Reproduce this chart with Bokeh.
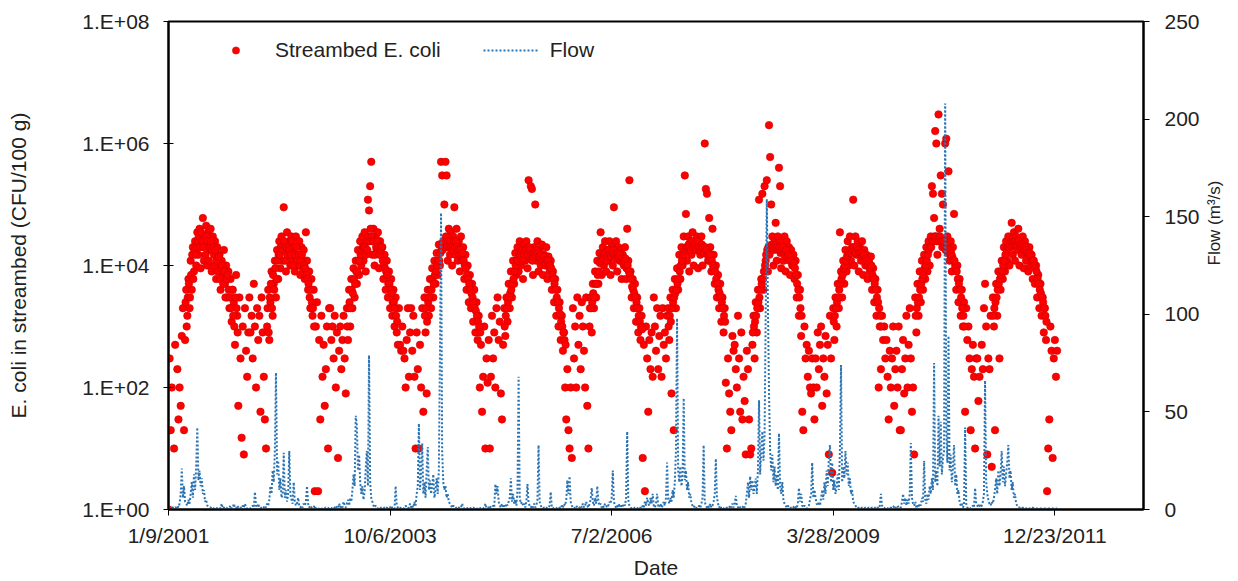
import numpy as np
from bokeh.plotting import figure
from bokeh.models import (Range1d, LinearAxis, LinearScale, FixedTicker, Legend, LegendItem,
                          ColumnDataSource, CustomJSTickFormatter)
from bokeh.embed import file_html
from bokeh.resources import INLINE

# ---------------- data ----------------
# Excel date serial of the first sample of each season block, 5-day sampling
season_start_serial = [36900, 37265, 37630, 37995, 38360, 38725, 39090, 39455, 39820, 40185, 40550]
sample_step_days = 5

# Streambed E. coli (CFU/100 g) (None = no point shown)
ecoli_2001 = [1, 300, 20, 100, None, 10, 500, None, 200, 30, 100,
              50, 700, 2e3, 20, 600, 4e3, 1.5e3,
              6e3, 2e3, 1.2e4, 4e3, 2e4, 8e3, 2.5e4, 1e4, 3.5e4,
              1.5e4, 4e4, 9e3, 3e4, 6e4, 1.2e4, 2.5e4, 4.5e4, 1e4, 3.5e4, 1.8e4, 4e4, 8e3, 3e4, 1.5e4, 2.5e4,
              6e3, 2e4, 1e4, 1.5e4, 4e3, 1.2e4, 7e3, 1.8e4, 5e3, 1e4, 3e3,
              8e3, 2e3, 6e3, 1.2e3, 4e3, 2.5e3, 500, 7e3, 1.5e3,
              50, 3e3, 300, 15, 1e3, 8, 2e3, 400, 150, 800]
ecoli_2002 = [3e3, 800, 1.5e3, 300, 5e3, 1e3, 100, 2e3, 600, 1.5e3, 40, 3e3, 800, 150, 30,
              10, 1e3, 4e3, 600, 2.5e3, 8e3, 1.5e3, 5e3, 1.2e4, 3e3, 1.8e4, 6e3,
              2.5e4, 9e3, 3e4, 1.2e4, 9e4, 2e4, 8e3, 3.5e4, 1.5e4, 2.5e4, 1e4, 3e4,
              1.2e4, 2e4, 8e3, 3e4, 1.5e4, 1e4, 2.5e4, 7e3, 2e4, 1.2e4, 1.8e4, 6e3,
              3.5e4, 1.2e4, 4e3, 8e3, 2e3, 6e3, 1.5e3, 4e3,
              2, 1e3, 2.5e3, 2, 600, 30, 1.5e3, 150, 500, 50, 200, 1e3, 10, 2e3]
ecoli_2003 = [2e3, 600, 1e3, 300, 1.5e3, 100, 800, 7, 400, 1e3, 200, 600, 1.5e3, 300, 80,
              2e3, 600, 4e3, 1e3, 6e3, 2e3, 9e3, 3e3, 1.2e4, 5e3, 1.8e4, 7e3, 2.5e4, 1e4,
              3e4, 1.2e4, 3.5e4, 8e3, 2.5e4, 1.2e5, 8e4, 2e5, 5e5, 1.5e4, 4e4, 1e4, 3e4, 1.8e4,
              3.5e4, 9e3, 2.5e4, 1.5e4,
              2e4, 6e3, 1.5e4, 4e3, 1.2e4, 3e3, 8e3, 2e3, 6e3, 1.5e3, 4e3, 1e3, 3e3, 800,
              500, 2e3, 500, 400, 1e3, 400, 300, 100, 600, 2e3, 150, 800]
ecoli_2004 = [2e3, 400, 1.5e3, 150, 10, 800, 200, 10, 500, 100,
              2e3, 40, 3e3, 800, 80, 4e3, 1.5e3, 6e3, 2e3, 9e3, 3e3, 1.2e4, 5e3, 1.6e4, 7e3, 2.2e4, 1e4,
              5e5, 3e5, 2.5e4, 1e5, 5e5, 3e5, 1.2e4, 4e4, 1.5e4, 3.5e4, 1e4, 3e4, 9e4, 1.5e4, 4e4,
              1.2e4, 2.5e4, 8e3, 3e4, 1.2e4, 2e4,
              6e3, 1.5e4, 4e3, 1e4, 2.5e3, 7e3, 2e3, 5e3, 1.2e3, 4e3, 800, 2.5e3, 600, 1.5e3, 100,
              500, 40, 150, 1e3, 10, 300, 120, 600, 10, 150]
ecoli_2005 = [1.5e3, 300, 800, 100, 2e3, 3e3, 600, 1.2e3, 80, 30, 500,
              2e3, 700, 3e3, 1.2e3, 5e3, 2e3, 8e3, 3e3, 1.2e4, 5e3, 1.6e4, 7e3,
              2e4, 8e3, 2.5e4, 1e4, 1.8e4, 6e3, 2.2e4, 1.2e4, 2.5e4, 9e3, 2.5e5, 1.5e4, 2e5, 1.8e5,
              7e3, 2e4, 1e5, 1.2e4, 2.5e4, 8e3, 1.8e4, 1e4, 2.2e4, 7e3, 1.5e4, 1e4, 2e4, 6e3, 1.4e4, 8e3,
              1.2e4, 4e3, 8e3, 2.5e3, 6e3, 1.5e3, 4e3, 1e3, 2.5e3, 600, 1.5e3, 400, 800, 100,
              30, 200, 20, 10, 100, 7]
ecoli_2006 = [2e3, 300, 1e3, 100, 3e3, 500, 1.5e3, 200, 2.5e3, 1e3, 400, 100, 3e3, 50,
              10, 1e3, 3e3, 800, 5e3, 2e3, 8e3, 3e3, 1.2e4, 5e3, 1.6e4,
              3.5e4, 7e3, 2e4, 1e4, 2.5e4, 8e3, 1.8e4, 1.2e4, 2.5e4, 7e3, 2e4, 1e4, 9e4, 1.5e4,
              2.5e4, 8e3, 2e4, 1.2e4, 1.8e4, 6e3, 1.5e4, 1e4, 2e4, 6e3, 4e4, 1.2e4,
              2.5e5, 8e3, 3e3, 6e3, 2e3, 5e3, 1.2e3, 3e3, 800, 2e3, 600, 1.5e3,
              7, 500, 2, 1e3, 300, 40, 600, 200, 800, 150]
ecoli_2007 = [3e3, 1e3, 400, 2e3, 200, 700, 1.5e3, 150, 2e3, 500,
              800, 300, 1.5e3, 2e3, 600, 3e3, 80, 4e3, 20, 6e3, 2e3, 9e3,
              4e3, 1.5e4, 6e3, 2e4, 1e4, 3e4, 3e5, 7e4, 1.2e4, 3e4, 8e3, 2.5e4, 1.5e4, 3.5e4,
              1e4, 2.5e4, 1.8e4, 3e4, 9e3, 2.5e4, 1.5e4, 3e4, 1e4, 2e4, 1e6, 1.8e5, 1.5e5,
              1.2e4, 6e4, 2e4, 8e3,
              4e4, 1.5e4, 5e3, 1e4, 3e3, 7e3, 2e3, 5e3, 1.2e3, 3e3, 800, 2e3,
              120, 10, 300, 80, 40, 20, 700, 400]
ecoli_2008 = [500, 200, 100, 1.5e3, 300, 40, 800, 30, 150, 60, 8, 400, 200, 30, 8, 10,
              500, 1.5e3, 300, 2.5e3, 800, 4e3, 1.2e5, 2e3, 6e3, 1.5e5, 4e3, 2e5,
              1.2e4, 2.5e5, 8e3, 2e6, 6e5, 1e5, 3e4, 1e4, 2.5e4, 5e4, 1.2e4, 3e4, 4e5, 2e5,
              9e3, 2.5e4, 1.2e4, 3e4, 8e3, 2.5e4, 1.5e4, 2e4, 7e3, 1.8e4, 1e4, 1.5e4, 6e3,
              1.2e4, 3e3, 7e3, 1.5e3, 4e3, 700, 40, 20,
              1e3, 300, 500, 150, 400, 100, 80, 300, 100, 30]
ecoli_2009 = [300, 100, 800, 200, 500, 1e3, 50, 300, 150, 700, 80, 500, 8, 1.5e3, 300, 4,
              2e3, 600, 3e3, 1e3, 5e3, 2e3, 3.5e4, 8e3, 3e3,
              1.2e4, 5e3, 1.8e4, 8e3, 2.5e4, 1e4, 3e4, 1.2e4, 2e4, 1.2e5, 1e4, 3e4, 1.5e4,
              2.5e4, 8e3, 2e4, 1.2e4, 2.5e4, 7e3, 1.8e4, 1e4, 1.5e4, 6e3, 1.2e4, 8e3, 1.4e4,
              4e3, 9e3, 2.5e3, 6e3, 1.5e3, 4e3, 100, 1e3, 200,
              1.5e3, 600, 1e3, 300, 600, 150, 30, 400, 100, 300, 1e3, 50, 200]
ecoli_2010 = [400, 100, 1e3, 20, 20, 200, 600, 80, 300, 1.5e3, 100, 500, 2e3, 300, 40, 100, 8,
              3e3, 800, 5e3, 1.5e3, 8e3, 2.5e3, 1.2e4, 4e3, 1.5e4, 6e3, 2e4, 8e3,
              2.5e4, 1e4, 3e4, 2e5, 1.5e5, 6e4, 1.6e6, 1e6, 1.5e4, 3e6, 4e4, 3e5, 1.5e5, 1e5,
              2e4, 1e6, 1.2e6, 3e4, 3.5e5, 1.2e4, 2.5e4, 8e3, 2e4, 7e4,
              1e4, 4e3, 1e4, 2.5e3, 6e3, 1.5e3, 4e3, 1e3, 2.5e3,
              40, 2e3, 600, 1e3, 300, 20, 200, 500, 150, 10, 300]
ecoli_2011 = [300, 60, 150, None, 500, 200, 2e3, 5e3, 1e3, 8, 300, 200, 1.5e3, 5,
              3e3, 1e3, 20, 5e3, 1.5e3, 8e3, 300, 4e3, 1.2e4, 6e3,
              2e4, 8e3, 2.5e4, 1.2e4, 3e4, 1e4, 2e4, 5e4, 1.5e4, 3.5e4, 1.2e4, 3e4, 1.8e4, 4e4,
              1e4, 2.5e4, 1.5e4, 3e4, 9e3, 2.5e4, 1.2e4, 2e4, 8e3, 2e4, 1e4, 1.5e4, 6e3, 1.2e4, 5e3,
              1e4, 3e3, 7e3, 2e3, 5e3, 1.5e3, 3e3, 800, 2e3, 600,
              2, 10, 30, 1e3, 400, 7, 300, 600, 150, 400]

# Extra summer samples (offset by 2 days) that fill the dense summer band
arch_start_serial = [36977, 37347, 37707, 38057, 38417, 38802, 39157, 39537, 39902, 40272, 40622]
arch_2001 = [2.5e3, 1e3, 3e3, 5e3, 3e3, 7e3, 1.5e4, 6e3, 1.8e4,
             1.5e4, 2e4, 2.5e4, 3e4, 2e4, 3.5e4, 2.5e4, 2e4, 3e4, 1.5e4, 3e4, 2.5e4, 1.2e4, 2e4, 2.5e4,
             1.8e4, 2e4, 1e4, 1.8e4,
             1.2e4, 8e3, 1.4e4, 6e3, 9e3, 1e4, 5e3, 8e3, 3e3, 6e3, 7e3,
             4e3, 3e3, 2e3, 4e3, 1.5e3, 1e3, 3e3, 2e3, 800]
arch_2002 = [2e3, 800, 3e3, 5e3, 2e3, 7e3, 4e3, 9e3, 6e3, 1.2e4, 1.5e4,
             1.5e4, 2e4, 2e4, 1.8e4, 2.5e4, 1.2e4, 2e4, 1.5e4, 2e4, 1.8e4, 1.5e4, 2.5e4, 1e4, 2e4,
             1.5e4, 2e4, 1.2e4, 1.5e4, 1e4, 1.2e4, 1.5e4, 8e3, 1e4, 9e3,
             7e3, 6e3, 5e3, 3e3, 4e3, 2.5e3, 2e3, 1e3]
arch_2003 = [1e3, 2e3, 2.5e3, 2e3, 4e3, 3.5e3, 6e3, 5e3, 8e3, 8e3, 1.2e4, 1.2e4, 1.5e4, 1.8e4,
             2e4, 2e4, 2e4, 1.5e4, 1.8e4, 3e4, 2.5e4, 4e4, 3e4, 2.5e4, 2.5e4, 1.5e4, 2e4, 2.5e4,
             2e4, 1.5e4, 1.8e4, 2e4,
             1.2e4, 1e4, 9e3, 8e3, 7e3, 5e3, 5e3, 4e3, 3.5e3, 2.5e3, 2.5e3, 2e3, 1.5e3, 1.2e3]
arch_2004 = [1.5e3, 2e3, 1.2e3, 2.5e3, 3e3, 4e3, 4e3, 6e3, 5e3, 7e3, 8e3, 1e4, 1.2e4, 1.2e4, 1.6e4,
             2e4, 1.8e4, 2.5e4, 2e4, 3e4, 2e4, 2.5e4, 2e4, 2.5e4, 2e4, 1.8e4, 2.5e4, 2e4, 2.5e4,
             2e4, 1.8e4, 1.5e4, 1.8e4, 1.5e4, 1.6e4, 1.2e4,
             1e4, 9e3, 7e3, 6e3, 5e3, 4e3, 3.5e3, 3e3, 2.5e3, 2e3, 1.8e3, 1.5e3, 1.2e3, 1e3, 800]
arch_2005 = [1e3, 1.5e3, 2e3, 2.5e3, 3e3, 3.5e3, 4e3, 5e3, 6e3, 8e3, 1e4, 1.2e4,
             1.2e4, 1.5e4, 1.5e4, 1.4e4, 1.2e4, 1.3e4, 1.5e4, 1.8e4, 1.6e4, 1.5e4, 2e4, 1.8e4,
             1.5e4, 1.2e4, 1.4e4, 1.6e4, 1.5e4, 1.8e4, 1.6e4, 1.4e4, 1.3e4, 1.5e4, 1.2e4, 1.4e4,
             1.2e4, 1.1e4, 1.2e4, 1.2e4, 1e4, 1e4,
             9e3, 7e3, 6e3, 5e3, 4e3, 3e3, 2.5e3, 2e3, 1.6e3, 1.2e3, 1e3, 800, 600, 500]
arch_2006 = [2e3, 2e3, 2.5e3, 3.5e3, 3e3, 5e3, 5e3, 7e3, 8e3, 1.1e4,
             1.2e4, 1.4e4, 1.3e4, 1.5e4, 1.6e4, 1.2e4, 1.4e4, 1.8e4, 1.5e4, 1.4e4, 1.6e4, 1.8e4,
             1.5e4, 1.3e4, 1.5e4, 1.6e4, 1.4e4, 1.5e4, 1.2e4, 1.3e4, 1.1e4, 1.2e4, 1.3e4, 9e3,
             1e4, 8e3,
             7e3, 6e3, 4.5e3, 4e3, 3.5e3, 3e3, 2.5e3, 2e3, 1.5e3, 1.2e3, 1e3, 900]
arch_2007 = [1e3, 1.5e3, 1.2e3, 2e3, 2.5e3, 3e3, 3.5e3, 4e3, 5e3, 6e3,
             8e3, 1e4, 1.2e4, 1.5e4, 1.5e4, 1.8e4, 2e4, 2e4, 2.2e4, 2e4, 1.8e4, 2.5e4, 2e4, 2.2e4,
             2e4, 1.8e4, 2.5e4, 2e4, 1.8e4, 2e4, 2.2e4, 2e4, 1.6e4, 2e4, 1.8e4, 1.5e4, 1.6e4,
             1.2e4, 1.5e4, 1.2e4,
             1e4, 9e3, 8e3, 6e3, 5e3, 4e3, 3.5e3, 3e3, 2.5e3, 2e3, 1.5e3, 1.2e3]
arch_2008 = [800, 1e3, 1.2e3, 1.5e3, 2e3, 2.5e3, 3e3, 4e3, 5e3, 6e3, 8e3, 1e4,
             1.5e4, 1.8e4, 2e4, 1.5e4, 2e4, 2.2e4, 2e4, 1.8e4, 2e4, 2.2e4, 2e4, 1.8e4, 2e4, 1.6e4,
             1.8e4, 2e4, 1.6e4, 1.5e4, 1.8e4, 1.4e4, 1.5e4, 1.2e4, 1.4e4, 1.2e4, 1e4, 1.1e4, 9e3,
             7e3, 5e3, 4e3, 3e3, 2e3, 1.5e3]
arch_2009 = [1.2e3, 1.5e3, 2e3, 2.5e3, 3e3, 4e3, 5e3, 6e3, 7e3,
             9e3, 1e4, 1.2e4, 1.4e4, 1.5e4, 1.6e4, 1.8e4, 1.6e4, 1.8e4, 2e4, 1.8e4, 1.6e4, 2e4,
             1.8e4, 1.6e4, 1.5e4, 1.6e4, 1.4e4, 1.5e4, 1.2e4, 1.3e4, 1.2e4, 1e4, 1.1e4, 9e3, 1e4,
             7e3, 6e3, 5e3, 4e3, 3e3, 2.5e3, 2e3, 1.5e3, 1e3]
arch_2010 = [1.5e3, 2e3, 2.5e3, 3e3, 4e3, 5e3, 6e3, 7e3, 9e3, 1e4, 1.2e4, 1.5e4,
             1.8e4, 2e4, 2e4, 2.5e4, 2.5e4, 3e4, 3e4, 2.5e4, 3e4, 2.5e4, 3e4, 2.5e4, 2e4, 2.5e4,
             2e4, 1.8e4, 2e4, 1.6e4, 1.8e4, 1.5e4, 1.6e4, 1.4e4, 1.2e4, 1.2e4,
             9e3, 8e3, 6e3, 5e3, 4e3, 3e3, 2e3, 1.5e3, 1e3]
arch_2011 = [1.5e3, 2e3, 2.5e3, 3e3, 4e3, 5e3, 6e3, 7e3, 8e3, 1e4,
             1.2e4, 1.5e4, 1.8e4, 2e4, 2e4, 2.2e4, 2.5e4, 2.5e4, 2.8e4, 2.5e4, 2.5e4, 2.2e4, 2.5e4,
             2.5e4, 2.2e4, 2e4, 2.2e4, 2e4, 1.8e4, 2e4, 1.8e4, 1.6e4, 1.5e4, 1.6e4, 1.4e4, 1.2e4,
             1.2e4, 1e4, 9e3,
             8e3, 6e3, 5e3, 4e3, 3.5e3, 3e3, 2.5e3, 2e3, 1.5e3, 1.2e3]

# Flow (m3/s)
flow_2001 = [1, 1, 0.5, 1, 1, 0.5, 1, 1, 2, 1,
             3, 8, 21, 6, 12, 4, 3, 2, 5, 3,
             8, 14, 6, 18, 10, 22, 42, 15, 20, 12,
             16, 8, 10, 4, 5, 2, 1.5, 1, 1, 0.5,
             1, 0.5, 0.5, 1, 0.5, 0.5, 1, 0.5, 3, 0.5,
             1, 0.5, 1, 0.5, 0.5, 1, 2, 0.5, 1, 3,
             1, 0.5, 2, 1, 0.5, 1, 0.5, 2, 1, 3,
             1, 0.5, 1]
flow_2002 = [1, 0.5, 1, 2, 1, 9, 2, 1, 3, 1,
             0.5, 1, 0.5, 1, 2, 1, 3, 2, 5, 12,
             8, 20, 14, 30, 70, 18, 25, 10, 16, 6,
             8, 29, 6, 10, 4, 8, 30, 8, 5, 3,
             14, 4, 2, 3, 6, 2, 1, 2, 1, 3,
             2, 4, 12, 3, 1, 2, 1, 0.5, 1, 2,
             0.5, 1, 0.5, 0.5, 1, 0.5, 0.5, 1, 0.5, 1,
             0.5, 0.5, 1]
flow_2003 = [1, 0.5, 1, 0.5, 1, 2, 1, 0.5, 3, 1,
             2, 1, 4, 2, 1, 3, 5, 2, 6, 4,
             10, 18, 12, 48, 43, 20, 28, 14, 8, 12,
             5, 9, 21, 30, 12, 79, 14, 6, 4, 2,
             1, 2, 1, 0.5, 1, 0.5, 1, 0.5, 0.5, 1,
             0.5, 1, 0.5, 0.5, 1, 2, 0.5, 1, 0.5, 12,
             2, 1, 0.5, 1, 0.5, 1, 0.5, 1, 2, 1,
             0.5, 1, 3]
flow_2004 = [1, 2, 1, 4, 2, 8, 12, 44, 10, 18,
             34, 8, 14, 6, 20, 32, 10, 15, 8, 12,
             18, 6, 10, 16, 8, 20, 80, 152, 30, 14,
             10, 12, 6, 8, 4, 3, 2, 1, 2, 1,
             0.5, 1, 0.5, 1, 0.5, 1, 3, 1, 0.5, 0.5,
             1, 0.5, 0.5, 1, 0.5, 0.5, 1, 0.5, 1, 0.5,
             0.5, 1, 0.5, 1, 0.5, 0.5, 1, 3, 1, 0.5,
             1, 2, 1]
flow_2005 = [1, 2, 1, 13, 8, 12, 4, 2, 1, 3,
             1, 2, 1, 3, 2, 4, 6, 16, 4, 8,
             3, 5, 2, 10, 68, 6, 3, 4, 2, 3,
             1, 4, 13, 3, 2, 1, 2, 1, 3, 1,
             2, 5, 33, 4, 2, 1, 0.5, 1, 0.5, 1,
             0.5, 1, 2, 9, 1, 0.5, 1, 0.5, 0.5, 1,
             0.5, 1, 0.5, 2, 1, 3, 2, 5, 15, 8,
             17, 4, 2]
flow_2006 = [1, 0.5, 1, 2, 1, 0.5, 1, 2, 1, 3,
             1, 2, 4, 2, 1, 3, 5, 11, 4, 2,
             6, 3, 12, 4, 2, 3, 1, 2, 1, 3,
             2, 1, 2, 4, 3, 6, 20, 4, 2, 1,
             2, 1, 3, 1, 2, 1, 3, 2, 6, 40,
             5, 2, 1, 0.5, 1, 0.5, 1, 0.5, 0.5, 1,
             0.5, 1, 0.5, 2, 1, 4, 2, 6, 3, 2,
             6, 3, 8]
flow_2007 = [2, 1, 3, 8, 2, 1, 3, 1, 2, 4,
             2, 6, 24, 5, 3, 6, 4, 10, 6, 14,
             30, 98, 20, 14, 22, 12, 18, 57, 15, 20,
             10, 14, 6, 8, 3, 2, 1, 2, 1, 0.5,
             1, 2, 1, 3, 6, 33, 4, 2, 1, 2,
             1, 3, 1, 2, 4, 8, 26, 6, 3, 1,
             2, 0.5, 1, 0.5, 1, 0.5, 1, 0.5, 1, 2,
             1, 3, 1]
flow_2008 = [3, 7, 2, 1, 2, 1, 0.5, 1, 2, 1,
             3, 8, 14, 6, 17, 10, 15, 8, 12, 16,
             8, 20, 56, 18, 30, 40, 25, 38, 100, 159,
             105, 60, 30, 20, 28, 14, 22, 12, 18, 10,
             39, 12, 8, 14, 5, 3, 2, 1, 2, 1,
             0.5, 1, 0.5, 1, 2, 1, 0.5, 3, 11, 4,
             8, 2, 1, 2, 1, 0.5, 1, 2, 5, 8,
             24, 6, 10]
flow_2009 = [6, 3, 2, 4, 2, 6, 10, 5, 14, 8,
             20, 12, 26, 33, 14, 24, 10, 15, 8, 12,
             18, 10, 30, 74, 14, 22, 16, 30, 18, 24,
             12, 16, 8, 10, 4, 3, 2, 1, 0.5, 1,
             0.5, 0.5, 1, 0.5, 0.5, 1, 0.5, 0.5, 1, 0.5,
             0.5, 1, 0.5, 0.5, 1, 0.5, 1, 0.5, 2, 8,
             2, 1, 0.5, 1, 0.5, 0.5, 1, 0.5, 1, 0.5,
             1, 2, 1]
flow_2010 = [1, 2, 1, 0.5, 1, 4, 8, 3, 6, 2,
             5, 3, 8, 34, 6, 3, 2, 4, 1, 2,
             1, 3, 2, 6, 4, 25, 5, 3, 8, 5,
             12, 8, 16, 10, 75, 14, 20, 12, 48, 22,
             45, 18, 26, 30, 208, 40, 24, 89, 20, 28,
             14, 22, 33, 12, 18, 8, 10, 4, 2, 3,
             1, 2, 42, 3, 1, 0.5, 1, 0.5, 1, 2,
             1, 11, 3]
flow_2011 = [2, 1, 3, 1, 2, 4, 8, 66, 14, 8,
             5, 3, 2, 4, 3, 6, 10, 16, 8, 20,
             12, 18, 30, 14, 22, 12, 18, 24, 33, 16,
             20, 10, 14, 6, 8, 3, 2, 1, 1, 0.5,
             0.5, 1, 0.5, 0.5, 0.5, 1, 0.5, 0.5, 0.5, 0.5,
             1, 0.5, 0.5, 0.5, 0.5, 0.5, 0.5, 0.5, 0.5, 0.5,
             0.5, 0.5, 0.5, 0.5, 0.5, 0.5, 0.5, 0.5, 0.5, 0.5,
             0.5, 0.5, 0.5]

ecoli_seasons = [ecoli_2001, ecoli_2002, ecoli_2003, ecoli_2004, ecoli_2005, ecoli_2006,
                 ecoli_2007, ecoli_2008, ecoli_2009, ecoli_2010, ecoli_2011]
arch_seasons = [arch_2001, arch_2002, arch_2003, arch_2004, arch_2005, arch_2006,
                arch_2007, arch_2008, arch_2009, arch_2010, arch_2011]
flow_seasons = [flow_2001, flow_2002, flow_2003, flow_2004, flow_2005, flow_2006,
                flow_2007, flow_2008, flow_2009, flow_2010, flow_2011]

date_tick_serials = [36900, 37900, 38900, 39900, 40900]
date_tick_labels = ["1/9/2001", "10/6/2003", "7/2/2006", "3/28/2009", "12/23/2011"]
ecoli_tick_values = [1, 1e2, 1e4, 1e6, 1e8]
ecoli_tick_labels = ["1.E+00", "1.E+02", "1.E+04", "1.E+06", "1.E+08"]
flow_tick_values = [0, 50, 100, 150, 200, 250]

# ---------------- build sources ----------------
ex, ey = [], []
for starts, seasons in ((season_start_serial, ecoli_seasons), (arch_start_serial, arch_seasons)):
    for start, vals in zip(starts, seasons):
        for i, v in enumerate(vals):
            if v is not None:
                ex.append(start + sample_step_days * i)
                ey.append(v)
fx, fy = [], []
for start, vals in zip(season_start_serial, flow_seasons):
    for i, v in enumerate(vals):
        fx.append(start + sample_step_days * i)
        fy.append(v)

ecoli_src = ColumnDataSource(dict(x=ex, y=ey))
flow_src = ColumnDataSource(dict(x=fx, y=fy))

FONT = "Liberation Sans"
TXT = "#222222"

p = figure(width=1238, height=581, output_backend="svg", toolbar_location=None,
           x_range=Range1d(36900, 41300), y_range=Range1d(1, 1e8), y_axis_type="log",
           min_border_left=168, min_border_right=95, min_border_top=21, min_border_bottom=70)
p.extra_y_ranges = {"flow": Range1d(0, 250)}
p.extra_y_scales = {"flow": LinearScale()}
p.xgrid.visible = False
p.ygrid.visible = False
p.background_fill_color = "white"
p.border_fill_color = "white"
p.outline_line_color = "black"
p.outline_line_width = 2

r_ecoli = p.scatter("x", "y", source=ecoli_src, size=7.5, marker="circle",
                    fill_color="#ff0000", line_color="#cc0000", line_width=0.6)
r_flow = p.line("x", "y", source=flow_src, y_range_name="flow",
                line_color="#2a74b4", line_width=2, line_dash="2 2")

# axes
xa = p.xaxis[0]
xa.ticker = FixedTicker(ticks=date_tick_serials)
xa.formatter = CustomJSTickFormatter(args=dict(vals=date_tick_serials, labs=date_tick_labels),
                                     code="const i = vals.indexOf(tick); return i >= 0 ? labs[i] : '';")
ya = p.yaxis[0]
ya.ticker = FixedTicker(ticks=ecoli_tick_values)
ya.formatter = CustomJSTickFormatter(args=dict(vals=ecoli_tick_values, labs=ecoli_tick_labels),
                                     code="for (let i = 0; i < vals.length; i++) { if (Math.abs(Math.log10(vals[i]) - Math.log10(tick)) < 1e-6) return labs[i]; } return '';")
ra = LinearAxis(y_range_name="flow", ticker=FixedTicker(ticks=flow_tick_values))
p.add_layout(ra, "right")

for ax in (xa, ya, ra):
    ax.axis_line_color = "black"
    ax.axis_line_width = 2
    ax.major_tick_line_color = "black"
    ax.major_tick_line_width = 1
    ax.minor_tick_line_color = None
    ax.major_label_text_font = FONT
    ax.major_label_text_font_size = "21px"
    ax.major_label_text_color = TXT
    ax.axis_label_text_font = FONT
    ax.axis_label_text_font_style = "normal"
    ax.axis_label_text_color = TXT
ya.major_tick_in = 5
ya.major_tick_out = 5
ya.major_label_standoff = 14
xa.major_tick_in = 0
xa.major_tick_out = 6
xa.major_label_standoff = 8
ra.major_tick_in = 0
ra.major_tick_out = 6
ra.major_label_standoff = 15

ya.axis_label = "E. coli in streambed (CFU/100 g)"
ya.axis_label_text_font_size = "21px"
ya.axis_label_standoff = 49
xa.axis_label = "Date"
xa.axis_label_text_font_size = "21px"
xa.axis_label_standoff = 6
ra.axis_label = "Flow (m³/s)"
ra.axis_label_text_font_size = "17px"
ra.axis_label_standoff = 12
try:
    ra.axis_label_orientation = np.pi / 2
except Exception:
    pass

legend = Legend(items=[LegendItem(label="Streambed E. coli", renderers=[r_ecoli]),
                       LegendItem(label="Flow", renderers=[r_flow])],
                location=(40, 447), orientation="horizontal",
                border_line_color=None, background_fill_alpha=0,
                label_text_font=FONT, label_text_font_size="21px", label_text_color=TXT,
                glyph_width=55, glyph_height=18, label_standoff=12, spacing=42,
                padding=5, margin=0)
p.add_layout(legend)

open("out.html", "w").write(file_html(p, INLINE))
